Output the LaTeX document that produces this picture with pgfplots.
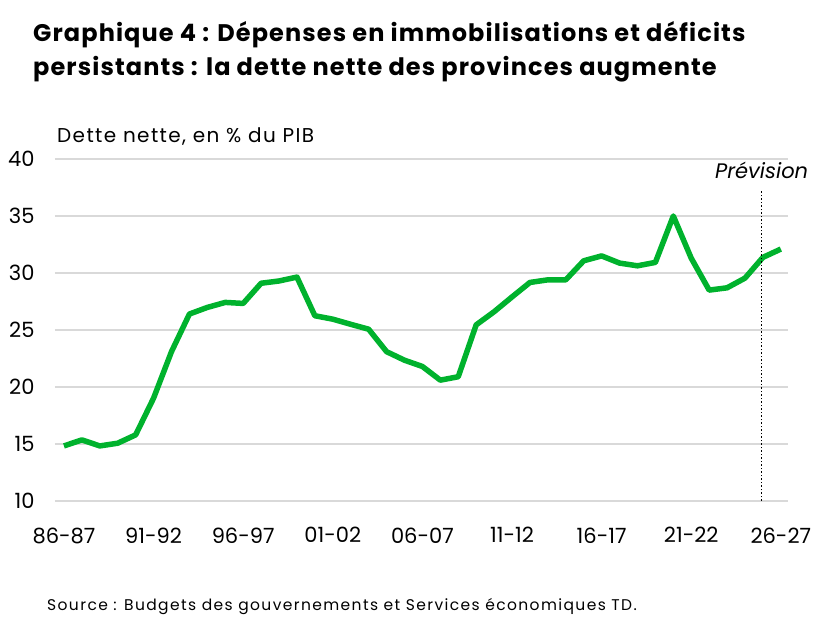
\documentclass[border=0pt]{standalone}
\usepackage{fontspec}
\setmainfont{Poppins}
\usepackage{pgfplots}
\pgfplotsset{compat=1.18}
\definecolor{tdgreen}{RGB}{0,178,45}
\definecolor{gridgray}{RGB}{217,217,217}

% dette nette des provinces, % du PIB, 86-87 (0) a 26-27 (40)
\begin{document}
\begin{tikzpicture}[x=1pt,y=1pt]
\path[use as bounding box] (0,0) rectangle (827,618);
\node[anchor=base west, inner sep=0, font=\fontsize{24}{30}\selectfont\bfseries\addfontfeatures{LetterSpace=4.6}]
  at (33,576) {Graphique 4 : Dépenses en immobilisations et déficits};
\node[anchor=base west, inner sep=0, font=\fontsize{24}{30}\selectfont\bfseries\addfontfeatures{LetterSpace=4.6}]
  at (33,542) {persistants : la dette nette des provinces augmente};
\node[anchor=base west, inner sep=0, font=\fontsize{20}{24}\selectfont\addfontfeatures{LetterSpace=7}]
  at (57,475) {Dette nette, en \% du PIB};
\node[anchor=base west, inner sep=0, font=\fontsize{15.5}{18}\selectfont\addfontfeatures{LetterSpace=9}]
  at (47,7) {Source : Budgets des gouvernements et Services économiques TD.};
\begin{axis}[
  at={(55pt,117pt)}, anchor=south west,
  scale only axis, width=733pt, height=342pt,
  xmin=-0.5, xmax=40.4, ymin=10, ymax=40,
  axis line style={draw=none},
  ymajorgrids, grid style={gridgray, line width=2pt},
  ytick={10,15,...,40},
  xtick={0,5,...,40},
  xticklabels={86-87,91-92,96-97,01-02,06-07,11-12,16-17,21-22,26-27},
  major tick length=0pt,
  tick label style={font=\fontsize{21}{25}\selectfont},
  /pgf/number format/assume math mode=true,
  yticklabel style={anchor=east, xshift=-17pt},
  xticklabel style={anchor=north, yshift=-23pt},
  clip=false,
]
\addplot[tdgreen, line width=5.5pt, line join=round] coordinates {
(0,14.83) (1,15.36) (2,14.83) (3,15.07) (4,15.8) (5,19.02) (6,23.1)
(7,26.4) (8,26.98) (9,27.42) (10,27.33) (11,29.1) (12,29.3) (13,29.64)
(14,26.25) (15,25.95) (16,25.5) (17,25.07) (18,23.1) (19,22.35) (20,21.8)
(21,20.6) (22,20.9) (23,25.45) (24,26.6) (25,27.9) (26,29.17) (27,29.4)
(28,29.4) (29,31.07) (30,31.5) (31,30.87) (32,30.63) (33,30.93) (34,35.0)
(35,31.3) (36,28.5) (37,28.7) (38,29.55) (39,31.37) (40,32.1)
};
\addplot[black, line width=1.5pt, dotted] coordinates {(38.93,10) (38.93,37.3)};
\node[font=\fontsize{21}{25}\selectfont\itshape] at (axis cs:38.93,38.97) {Prévision};
\end{axis}
\end{tikzpicture}
\end{document}
